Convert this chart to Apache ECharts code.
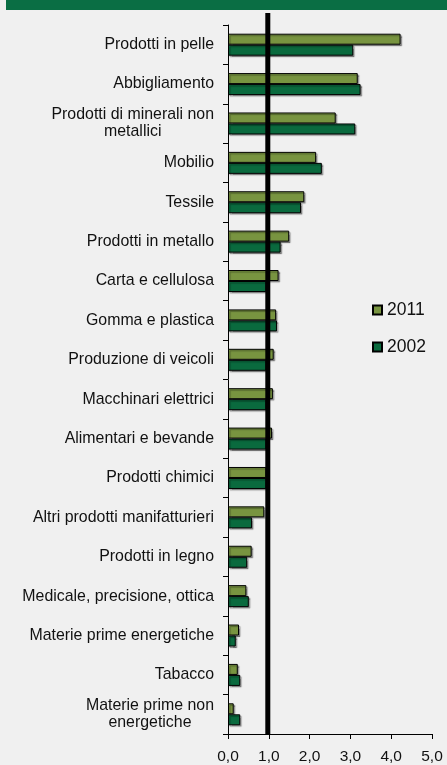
<!DOCTYPE html>
<html>
<head>
<meta charset="utf-8">
<script src="https://cdn.jsdelivr.net/npm/echarts@6/dist/echarts.min.js"></script>
<style>
  html, body { margin: 0; padding: 0; background: #f0f0f0; }
  #chart { width: 447px; height: 765px; }
</style>
</head>
<body>
<div id="chart"></div>
<script>
// Sectors, top to bottom
const categories = [
  'Prodotti in pelle',
  'Abbigliamento',
  'Prodotti di minerali non\nmetallici',
  'Mobilio',
  'Tessile',
  'Prodotti in metallo',
  'Carta e cellulosa',
  'Gomma e plastica',
  'Produzione di veicoli',
  'Macchinari elettrici',
  'Alimentari e bevande',
  'Prodotti chimici',
  'Altri prodotti manifatturieri',
  'Prodotti in legno',
  'Medicale, precisione, ottica',
  'Materie prime energetiche',
  'Tabacco',
  'Materie prime non\nenergetiche'
];

const values2011 = [4.23, 3.18, 2.64, 2.16, 1.87, 1.50, 1.24, 1.18, 1.12, 1.10, 1.08, 0.94, 0.89, 0.58, 0.45, 0.27, 0.24, 0.14];
const values2002 = [3.07, 3.25, 3.12, 2.30, 1.79, 1.29, 0.94, 1.20, 0.94, 0.94, 0.94, 0.94, 0.59, 0.47, 0.51, 0.19, 0.30, 0.30];

const seriesNames = ['2011', '2002'];
const xTickLabels = ['0,0', '1,0', '2,0', '3,0', '4,0', '5,0'];
const thresholdValue = 1;

const FONT = '"Liberation Sans", Arial, sans-serif';
const FS = 15.9;
const COLOR_2011 = '#789440';
const COLOR_2002 = '#0a6a3e';

const chart = echarts.init(document.getElementById('chart'), null, { renderer: 'canvas' });

const barStyle = (color) => ({
  color: color,
  borderColor: '#000',
  borderWidth: 1,
  shadowColor: 'rgba(0,0,0,0.35)',
  shadowOffsetX: 1.5,
  shadowOffsetY: 1.5,
  shadowBlur: 1
});

chart.setOption({
  animation: false,
  backgroundColor: '#f0f0f0',
  textStyle: { fontFamily: FONT },
  grid: { left: 228, right: 15, top: 25, bottom: 31, containLabel: false },
  legend: {
    data: seriesNames,
    orient: 'vertical',
    left: 372,
    top: 300,
    padding: 0,
    itemWidth: 9,
    itemHeight: 9,
    itemGap: 17,
    icon: 'rect',
    textStyle: { fontFamily: FONT, fontSize: 17.5, lineHeight: 20, color: '#111' },
    itemStyle: { shadowColor: 'transparent', shadowBlur: 0, shadowOffsetX: 0, shadowOffsetY: 0 }
  },
  xAxis: {
    type: 'value',
    min: 0,
    max: 5,
    interval: 1,
    splitLine: { show: false },
    axisLine: { show: true, lineStyle: { color: '#000', width: 1 } },
    axisTick: { show: true, length: 5, lineStyle: { color: '#000' } },
    axisLabel: {
      margin: 15,
      fontFamily: FONT,
      fontSize: 15.5,
      color: '#111',
      formatter: (v, i) => xTickLabels[i]
    }
  },
  yAxis: {
    type: 'category',
    data: categories,
    inverse: true,
    axisLine: { show: true, lineStyle: { color: '#000', width: 1 } },
    axisTick: { show: true, length: 5, lineStyle: { color: '#000' } },
    axisLabel: {
      margin: 14,
      fontFamily: FONT,
      fontSize: FS,
      color: '#111',
      lineHeight: 17,
      formatter: (v) => v.split('\n').map(l => '{c|' + l + '}').join('\n'),
      rich: {
        c: { align: 'center', fontFamily: FONT, fontSize: FS, color: '#111', lineHeight: 17 }
      }
    }
  },
  series: [
    {
      name: seriesNames[0],
      type: 'bar',
      data: values2011,
      barWidth: 11,
      barGap: '0%',
      itemStyle: barStyle(COLOR_2011)
    },
    {
      name: seriesNames[1],
      type: 'bar',
      data: values2002,
      barWidth: 11,
      barGap: '0%',
      itemStyle: barStyle(COLOR_2002)
    }
  ]
});

// Header band and the threshold line at 1,0 (drawn from the axis scale)
const xLine = chart.convertToPixel({ xAxisIndex: 0 }, thresholdValue);
const gridRect = chart.getModel().getComponent('grid').coordinateSystem.getRect();

chart.setOption({
  graphic: [
    {
      type: 'rect',
      shape: { x: 6, y: 0, width: 441, height: 10 },
      style: { fill: '#0a6e44' },
      silent: true
    },
    {
      type: 'line',
      shape: { x1: xLine - 1, y1: gridRect.y - 12, x2: xLine - 1, y2: gridRect.y + gridRect.height },
      style: { stroke: '#000', lineWidth: 5 },
      z: 10,
      silent: true
    }
  ]
});
</script>
</body>
</html>
